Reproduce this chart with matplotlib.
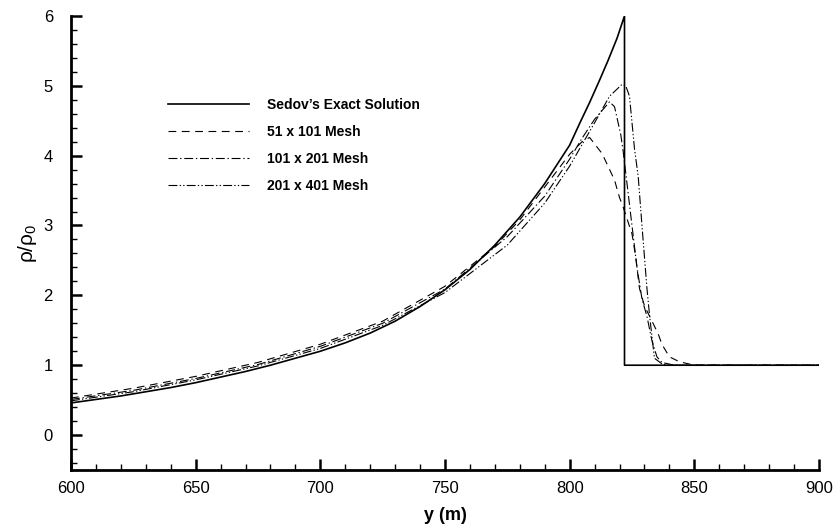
import matplotlib
matplotlib.use("Agg")
import matplotlib.pyplot as plt
from matplotlib.ticker import MultipleLocator

plt.rcParams['font.family'] = ['Liberation Sans', 'DejaVu Sans']
plt.rcParams['mathtext.fontset'] = 'custom'
plt.rcParams['mathtext.rm'] = 'Liberation Sans'
plt.rcParams['mathtext.it'] = 'Liberation Sans'

# Sedov's exact solution
exact_y = [600, 610, 620, 630, 640, 650, 660, 670, 680, 690, 700, 710, 720,
           730, 740, 750, 760, 770, 780, 790, 800, 804, 808, 812, 815.5, 819,
           822, 822, 900]
exact_rho = [0.46, 0.51, 0.56, 0.62, 0.68, 0.75, 0.83, 0.91, 1.00, 1.10,
             1.20, 1.32, 1.46, 1.63, 1.84, 2.08, 2.37, 2.72, 3.12, 3.60,
             4.15, 4.46, 4.76, 5.08, 5.37, 5.68, 6.0, 1.0, 1.0]

# 51 x 101 mesh
m51_y = [600, 625, 650, 675, 700, 725, 750, 770, 780, 790, 800, 805, 808,
         813, 818, 820, 821.5, 825, 826.5, 828, 830, 835.5, 837, 840, 844,
         850, 900]
m51_rho = [0.53, 0.67, 0.84, 1.04, 1.30, 1.63, 2.13, 2.70, 3.08, 3.55, 4.02,
           4.20, 4.26, 4.03, 3.65, 3.40, 3.26, 2.88, 2.55, 2.10, 1.85, 1.45,
           1.30, 1.12, 1.05, 1.0, 1.0]

# 101 x 201 mesh
m101_y = [600, 625, 650, 675, 700, 725, 750, 775, 790, 800, 805, 810, 816,
          818, 820.5, 821.5, 823, 825, 827, 829, 831, 833, 835, 837, 842, 900]
m101_rho = [0.51, 0.64, 0.81, 1.01, 1.27, 1.60, 2.09, 2.84, 3.42, 3.95, 4.25,
            4.52, 4.77, 4.70, 4.30, 4.05, 3.60, 3.00, 2.40, 1.95, 1.70, 1.35,
            1.12, 1.04, 1.0, 1.0]

# 201 x 401 mesh
m201_y = [600, 625, 650, 675, 700, 725, 750, 775, 790, 800, 810, 816, 821,
          822.5, 824, 826, 827.5, 829, 831, 832, 834, 837, 840, 900]
m201_rho = [0.49, 0.62, 0.79, 0.99, 1.24, 1.57, 2.04, 2.72, 3.32, 3.85, 4.47,
            4.85, 5.02, 5.00, 4.85, 4.10, 3.70, 3.00, 2.10, 1.73, 1.10, 1.02,
            1.0, 1.0]

fig = plt.figure(figsize=(8.34, 5.30), dpi=100)
ax = fig.add_axes([0.0851, 0.1132, 0.8969, 0.8568])

ax.plot(exact_y, exact_rho, color='black', lw=1.2, label="Sedov\u2019s Exact Solution")
ax.plot(m51_y, m51_rho, color='black', lw=0.8, dashes=(7, 5),
        label='51 x 101 Mesh')
ax.plot(m101_y, m101_rho, color='black', lw=0.8, dashes=(8, 2.5, 1.2, 2.5),
        label='101 x 201 Mesh')
ax.plot(m201_y, m201_rho, color='black', lw=0.8,
        dashes=(8, 2, 1.2, 2, 1.2, 2), label='201 x 401 Mesh')

ax.set_xlim(600, 900)
ax.set_ylim(-0.5, 6)
ax.xaxis.set_major_locator(MultipleLocator(50))
ax.xaxis.set_minor_locator(MultipleLocator(10))
ax.yaxis.set_major_locator(MultipleLocator(1))
ax.yaxis.set_minor_locator(MultipleLocator(0.2))

for s in ['top', 'right']:
    ax.spines[s].set_visible(False)
for s in ['left', 'bottom']:
    ax.spines[s].set_linewidth(2)

ax.tick_params(which='major', direction='in', length=8, width=1.8,
               labelsize=12)
ax.tick_params(which='minor', direction='in', length=4.5, width=1)
ax.tick_params(axis='x', which='major', pad=8)
ax.tick_params(axis='y', which='major', pad=13)

ax.set_xlabel('y (m)', fontsize=13, fontweight='bold', labelpad=8)
ax.set_ylabel(r'$\rho/\rho_0$', fontsize=15, labelpad=3)

leg = ax.legend(loc='upper left', bbox_to_anchor=(0.1136, 0.846), frameon=False,
                handlelength=5.8, handletextpad=1.3, labelspacing=0.92,
                prop={'weight': 'bold', 'size': 10})

fig.savefig('out.png', dpi=100)
